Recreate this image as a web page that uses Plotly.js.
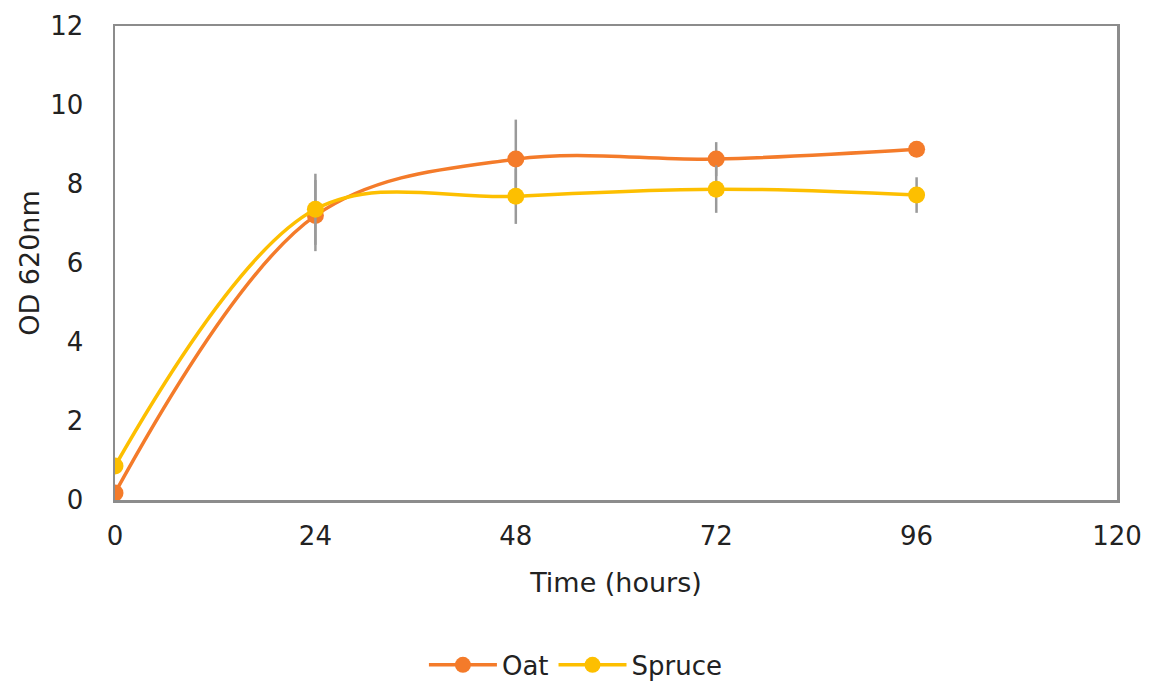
<!DOCTYPE html>
<html>
<head>
<meta charset="utf-8">
<script src="https://cdn.plot.ly/plotly-3.0.1.min.js"></script>
<style>html,body{margin:0;padding:0;background:#fff;}#chart{width:1149px;height:689px;}</style>
</head>
<body>
<div id="chart"></div>
<script>
const timeHours = [0, 24, 48, 72, 96];
const oatOD = [0.18, 7.2, 8.63, 8.63, 8.88];
const oatErr = [0, 0.9, 1.0, 0.43, 0.12];
const spruceOD = [0.86, 7.36, 7.69, 7.87, 7.72];
const spruceErr = [0, 0.9, 0.7, 0.6, 0.45];
const xTicks = [0, 24, 48, 72, 96, 120];

const FONT = 'DejaVu Sans, Liberation Sans, Arial, sans-serif';
function mk(name, y, err, color) {
  return {
    type: 'scatter', mode: 'lines+markers', name: name, x: timeHours, y: y,
    line: {shape: 'spline', smoothing: 1, width: 3.5, color: color},
    marker: {size: 17, color: color},
    error_y: {type: 'data', array: err, visible: true, color: '#9a9a9a', thickness: 2.5, width: 0}
  };
}
const traces = [
  mk('Oat', oatOD, oatErr, '#F47B2A'),
  mk('Spruce', spruceOD, spruceErr, '#FDBF00')
];

const layout = {
  width: 1149, height: 689,
  margin: {l: 115, r: 32, t: 26, b: 189, autoexpand: false},
  paper_bgcolor: '#fff', plot_bgcolor: '#fff',
  font: {family: FONT, color: '#222', size: 26},
  xaxis: {
    range: [0, 120], tickvals: xTicks, ticktext: xTicks.map(String), automargin: false,
    showgrid: false, zeroline: false, showline: true, mirror: true,
    linecolor: '#8c8c8c', linewidth: 2.5, ticks: '', ticklen: 0,
    tickfont: {size: 26}, ticklabelstandoff: 11,
    title: {text: 'Time (hours)', font: {size: 27}, standoff: 24}
  },
  yaxis: {
    range: [0, 12], dtick: 2, showgrid: false, zeroline: false, automargin: false,
    showline: true, mirror: true, linecolor: '#8c8c8c', linewidth: 2.5,
    ticks: '', tickfont: {size: 26}, ticklabelstandoff: 24,
    title: {text: 'OD 620nm', font: {size: 27}, standoff: 3}
  },
  showlegend: true,
  legend: {orientation: 'h', x: 0.46, xanchor: 'center', y: -0.348, yanchor: 'middle',
           font: {size: 26}, itemwidth: 68},
};

Plotly.newPlot('chart', traces, layout, {displayModeBar: false, staticPlot: true});
</script>
</body>
</html>
